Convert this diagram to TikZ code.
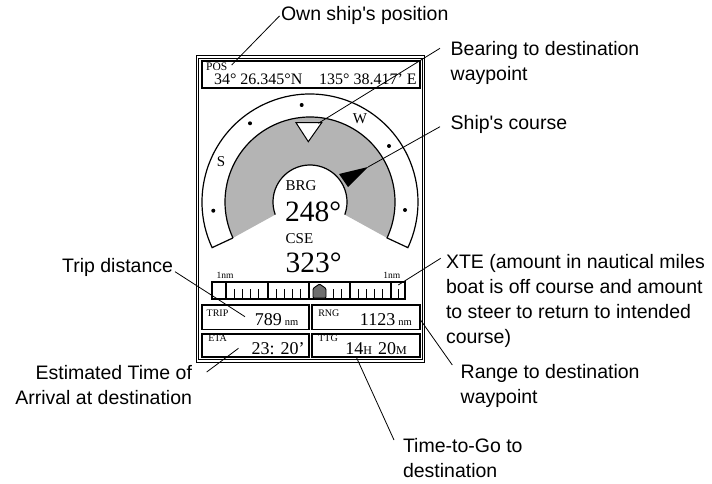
\documentclass[tikz,border=0pt]{standalone}
\usepackage{fontspec}
\setmainfont{Liberation Serif}
\newfontfamily\sansf{Liberation Sans}
\usetikzlibrary{calc}
\newcommand\fsz[1]{\fontsize{#1}{#1}\selectfont}
\definecolor{ringgray}{RGB}{180,180,180}
\definecolor{markgray}{RGB}{110,110,110}
\begin{document}
\begin{tikzpicture}[x=1pt,y=1pt,
  every node/.style={inner sep=0pt,outer sep=0pt},
  lbl/.style={font=\sansf\fontsize{19.5}{25}\selectfont, align=left},
  leader/.style={line width=0.8pt},
  dbox/.style={draw, line width=1.7pt},
  compass/.style={line width=1.2pt},
  dot/.style={fill=black}]
\useasboundingbox (0,0) rectangle (712,483);

% outer frame (double line)
\draw[line width=0.9pt] (196,121) rectangle (424.5,427.5);
\draw[line width=0.9pt] (198.5,123.5) rectangle (422,425);

% data boxes
\node[dbox, minimum width=218, minimum height=27] (posbox) at (311,408.5) {};
\node[dbox, minimum width=107, minimum height=24.5] (tripbox) at (255.5,165.75) {};
\node[dbox, minimum width=108, minimum height=24.5] (rngbox) at (366,165.75) {};
\node[dbox, minimum width=107, minimum height=23] (etabox) at (255.5,137.5) {};
\node[dbox, minimum width=108, minimum height=23] (ttgbox) at (366,137.5) {};

% compass
\coordinate (C) at (310,281);
\fill[ringgray] ($(C)+(205:85)$) arc[start angle=205,end angle=-25,radius=85]
  -- ($(C)+(-20:37)$) arc[start angle=-20,end angle=200,radius=37] -- cycle;
\draw[compass] ($(C)+(205:85)$) -- ($(C)+(205:108)$)
  arc[start angle=205,end angle=-25,radius=108] -- ($(C)+(-25:85)$)
  arc[start angle=-25,end angle=205,radius=85];
\draw[compass] ($(C)+(200:37)$) arc[start angle=200,end angle=-20,radius=37];

\fill[dot] (301.7,378) circle (2);
\fill[dot] (250,359.7) circle (2);
\fill[dot] (389,337) circle (2);
\fill[dot] (213.3,272.3) circle (2);
\fill[dot] (405,273) circle (2);
\node[font=\fsz{15}] (wlab) at (360,364.7) {W};
\node[font=\fsz{15}] (slab) at (221,321.3) {S};

% bearing marker and course pointer
\draw[fill=white, line width=1pt] (296,360.3) -- (321.7,360.3) -- (308.3,341.3) -- cycle;
\coordinate (ptip) at (368,316);
\fill (339,309) -- (ptip) -- (348,296) -- cycle;

\node[anchor=base west, font=\fsz{15}] (brg) at (285.7,293) {BRG};
\node[anchor=base west, font=\fsz{29.5}] (brgval) at (285,262) {248°};
\node[anchor=base west, font=\fsz{15}] (cse) at (285.7,239.7) {CSE};
\node[anchor=base west, font=\fsz{29.5}] (cseval) at (285.7,210.3) {323°};

% XTE bar
\node[draw, line width=1.2pt, minimum width=193, minimum height=17, anchor=south west] (xtebar) at (212,184) {};
\foreach \x in {226,268,309,350,391} \draw[line width=1.1pt] (\x,184) -- (\x,201);
\foreach \s in {226,268,309,350} \foreach \k in {1,...,4} \draw[line width=0.9pt] (\s+\k*8.2,184) -- ++(0,10);
\draw[line width=0.9pt] (398,184) -- ++(0,10);
\filldraw[fill=markgray, line width=0.9pt, rounded corners=1pt] (313,185) -- (313,194.5) -- (319.5,199) -- (326,194.5) -- (326,185) -- cycle;
\node[anchor=base west, font=\fsz{9.5}] (nmleft) at (216.7,205) {1nm};
\node[anchor=base west, font=\fsz{9.5}] (nmright) at (383.3,205) {1nm};

% box texts
\node[anchor=base west,font=\fsz{11.5}] (poslbl) at (206.2,412) {POS};
\node[anchor=base west,font=\fsz{16}] (lat) at (214,398) {34° 26.345°N};
\node[anchor=base east,font=\fsz{16}] (lon) at (416.7,398) {135° 38.417' E};
\node[anchor=base west,font=\fsz{10}] (triplbl) at (206.7,166.3) {TRIP};
\node[anchor=base east,font=\fsz{18}] (tripval) at (298.3,158) {789\kern3pt{\fsz{10.5}nm}};
\node[anchor=base west,font=\fsz{10}] (rnglbl) at (318.3,166.3) {RNG};
\node[anchor=base east,font=\fsz{18}] (rngval) at (411.7,158) {1123\kern3pt{\fsz{10.5}nm}};
\node[anchor=base west,font=\fsz{10}] (etalbl) at (208.3,141.5) {ETA};
\node[anchor=base west,font=\fsz{18}] (etaval) at (251.7,129) {23: 20'};
\node[anchor=base west,font=\fsz{10}] (ttglbl) at (318.3,141.5) {TTG};
\node[anchor=base east,font=\fsz{18}] (ttgval) at (406.7,129) {14{\fsz{12}H}\hspace{6pt}20{\fsz{12}M}};

% callout labels
\node[lbl, anchor=base west] (ownlab) at (281,462) {Own ship\textquotesingle s position};
\node[lbl, anchor=north west] (bearlab) at (450.7,444.5) {\strut Bearing to destination\\waypoint};
\node[lbl, anchor=base west] (courselab) at (450.7,353) {Ship\textquotesingle s course};
\node[lbl, anchor=base east] (triplab) at (173,210.7) {Trip distance};
\node[lbl, anchor=north east, align=right] (etalab) at (192,121.5) {\strut Estimated Time of\\Arrival at destination};
\node[lbl, anchor=north west] (xtelab) at (446,232.2) {\strut XTE (amount in nautical miles\\boat is off course and amount\\to steer to return to intended\\course)};
\node[lbl, anchor=north west] (rnglab) at (460.7,122.2) {\strut Range to destination\\waypoint};
\node[lbl, anchor=north west] (ttglab) at (403,48.5) {\strut Time-to-Go to\\destination};

% leader lines
\coordinate (posend) at (231.7,418);
\coordinate (bearstart) at (440,434.7);
\coordinate (bearend) at (318.3,359.7);
\coordinate (coursestart) at (440,356.3);
\coordinate (tripstart) at (175,211.3);
\coordinate (tripend) at (245,166.3);
\coordinate (etastart) at (206.7,111);
\coordinate (etaend) at (238.5,134.7);
\coordinate (xtestart) at (440.7,224.7);
\coordinate (xteend) at (398.3,198);
\coordinate (rngstart) at (452.3,118);
\coordinate (rngend) at (419.5,164.5);
\coordinate (ttgstart) at (356.7,125);
\coordinate (ttgend) at (394,43);
\draw[leader] ([xshift=-1.5pt]ownlab.west) -- (posend);
\draw[leader] (bearstart) -- (bearend);
\draw[leader] (coursestart) -- (ptip);
\draw[leader] (tripstart) -- (tripend);
\draw[leader] (etastart) -- (etaend);
\draw[leader] (xtestart) -- (xteend);
\draw[leader] (rngstart) -- (rngend);
\draw[leader] (ttgstart) -- (ttgend);
\end{tikzpicture}
\end{document}
